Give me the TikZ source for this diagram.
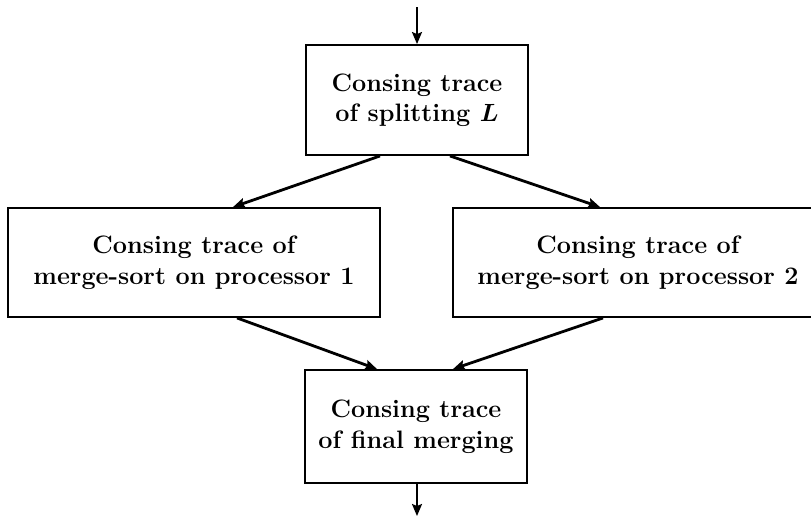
\documentclass[tikz,border=0pt]{standalone}
\usetikzlibrary{arrows.meta}
\begin{document}
\begin{tikzpicture}[x=1pt,y=-1pt,
  trace/.style={draw, line width=1.9pt, align=center, inner sep=0pt,
    font=\fontsize{25.2}{30.5}\selectfont\bfseries\boldmath},
  flow/.style={line width=2.8pt, -{Stealth[length=12pt,width=10pt,inset=2pt]}},
  feed/.style={line width=1.9pt, -{Stealth[length=12pt,width=10pt,inset=2pt]}}]
\useasboundingbox (0,0) rectangle (811,517);
\clip (0,0) rectangle (811,517);

% the four stages of the parallel merge-sort
\node[trace, minimum width=222pt, minimum height=110pt] (split) at (417,100)
  {Consing trace\\of splitting $L$};
\node[trace, minimum width=372pt, minimum height=109pt] (left) at (194,262.5)
  {Consing trace of\\merge-sort on processor 1};
\node[trace, minimum width=370pt, minimum height=109pt] (right) at (638,262.5)
  {Consing trace of\\merge-sort on processor 2};
\node[trace, minimum width=222pt, minimum height=113pt] (final) at (416,426.5)
  {Consing trace\\of final merging};

% input and output ends
\coordinate (in) at (417,7);
\coordinate (out) at (417,516);

\draw[feed] (in) -- (split.north);
\draw[flow] ([xshift=-37pt]split.south) -- ([xshift=39pt]left.north);
\draw[flow] ([xshift=33pt]split.south) -- ([xshift=-38pt]right.north);
\draw[flow] ([xshift=43pt]left.south) -- ([xshift=-39pt]final.north);
\draw[flow] ([xshift=-35pt]right.south) -- ([xshift=37pt]final.north);
\draw[feed] (final.south -| out) -- (out);
\end{tikzpicture}
\end{document}
